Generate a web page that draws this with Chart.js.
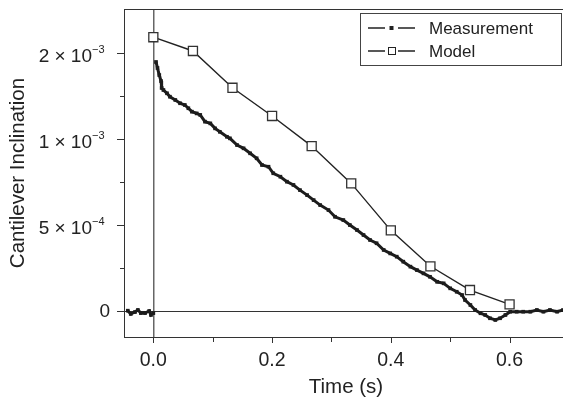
<!DOCTYPE html>
<html>
<head>
<meta charset="utf-8">
<script src="https://cdn.jsdelivr.net/npm/chart.js@4/dist/chart.umd.min.js"></script>
<style>
  body { margin: 0; background: #fff; }
  canvas { display: block; }
</style>
</head>
<body>
<canvas id="grafico" width="563" height="398"></canvas>
<script>
// values in units of 10^-3
const measTime = [-0.043, -0.038, -0.031, -0.026, -0.021, -0.014, -0.007, -0.004, 0.0,
  0.0045, 0.007, 0.010, 0.013, 0.014, 0.017, 0.023, 0.028, 0.037, 0.045,
  0.053, 0.059, 0.065, 0.073, 0.079, 0.087, 0.096, 0.104, 0.112, 0.124,
  0.129, 0.141, 0.152, 0.163, 0.174, 0.183, 0.194, 0.202, 0.214, 0.225,
  0.236, 0.247, 0.259, 0.270, 0.281, 0.295, 0.306, 0.320, 0.331, 0.343,
  0.354, 0.365, 0.376, 0.388, 0.399, 0.410, 0.421, 0.433, 0.444, 0.455,
  0.466, 0.478, 0.489, 0.500, 0.511, 0.520, 0.525, 0.534, 0.542, 0.551,
  0.559, 0.567, 0.576, 0.584, 0.593, 0.601, 0.612, 0.623, 0.635, 0.646,
  0.657, 0.668, 0.680, 0.690];
const measValue = [0.002, -0.017, -0.006, 0.006, -0.012, -0.012, 0, -0.023, -0.012,
  1.448, 1.413, 1.372, 1.337, 1.297, 1.285, 1.266, 1.246, 1.227, 1.208,
  1.198, 1.179, 1.159, 1.149, 1.140, 1.101, 1.091, 1.062, 1.042, 1.013,
  1.004, 0.965, 0.946, 0.917, 0.888, 0.849, 0.839, 0.801, 0.781, 0.752,
  0.733, 0.703, 0.674, 0.645, 0.616, 0.587, 0.548, 0.529, 0.500, 0.471,
  0.442, 0.413, 0.394, 0.355, 0.335, 0.316, 0.287, 0.258, 0.238, 0.219,
  0.199, 0.170, 0.161, 0.132, 0.112, 0.093, 0.064, 0.035, 0.006, -0.013,
  -0.023, -0.042, -0.052, -0.042, -0.023, -0.004, -0.004, -0.004, -0.004, 0.006,
  -0.004, 0.006, -0.004, 0.006];

const modelTime = [0, 0.0667, 0.1333, 0.2, 0.2667, 0.3333, 0.4, 0.4667, 0.5333, 0.6];
const modelValue = [1.592, 1.512, 1.298, 1.134, 0.959, 0.742, 0.469, 0.260, 0.122, 0.039];

const xTickValues = [0, 0.2, 0.4, 0.6];
const xTickLabels = ['0.0', '0.2', '0.4', '0.6'];
const yTickValues = [0, 0.5, 1.0, 1.5];
const yTickBase = ['0', '5 \u00d7 10', '1 \u00d7 10', '2 \u00d7 10'];
const yTickExp = ['', '\u22124', '\u22123', '\u22123'];

const seriesNames = ['Measurement', 'Model'];
const FONT = '"Liberation Sans", Arial, Helvetica, sans-serif';
const INK = '#222';

// index of the first point after the trigger jump (segment is hidden)
const saltoIndex = measTime.findIndex(t => t > 0);

function ehMaior(lista, v) {
  return lista.some(t => Math.abs(t - v) < 1e-6);
}

const moldura = {
  id: 'moldura',
  afterDraw(chart) {
    const { ctx, chartArea: a, scales: { x, y } } = chart;
    ctx.save();
    ctx.strokeStyle = '#333';
    ctx.lineWidth = 1;

    // top border
    ctx.beginPath();
    ctx.moveTo(a.left, a.top + 0.5);
    ctx.lineTo(a.right, a.top + 0.5);
    ctx.stroke();

    // ticks, major longer than minor
    y.ticks.forEach(t => {
      const py = Math.round(y.getPixelForValue(t.value)) + 0.5;
      if (py < a.top + 2) return;
      const len = ehMaior(yTickValues, t.value) ? 7 : 4;
      ctx.beginPath();
      ctx.moveTo(a.left - len, py);
      ctx.lineTo(a.left, py);
      ctx.stroke();
    });
    x.ticks.forEach(t => {
      const px = Math.round(x.getPixelForValue(t.value)) + 0.5;
      const len = ehMaior(xTickValues, t.value) ? 6 : 5;
      ctx.beginPath();
      ctx.moveTo(px, a.bottom);
      ctx.lineTo(px, a.bottom + len);
      ctx.stroke();
    });

    ctx.fillStyle = INK;
    ctx.textBaseline = 'middle';

    // y tick labels with superscript
    yTickValues.forEach((v, i) => {
      const py = y.getPixelForValue(v);
      if (!yTickExp[i]) {
        ctx.font = '19px ' + FONT;
        ctx.textAlign = 'right';
        ctx.fillText(yTickBase[i], 110, py + 1);
        return;
      }
      ctx.font = '19px ' + FONT;
      ctx.textAlign = 'right';
      ctx.fillText(yTickBase[i], 92, py + 4);
      ctx.font = '11px ' + FONT;
      ctx.textAlign = 'left';
      ctx.fillText(yTickExp[i], 92, py - 3);
    });

    // x tick labels
    ctx.font = '19.5px ' + FONT;
    ctx.textAlign = 'center';
    xTickValues.forEach((v, i) => {
      ctx.fillText(xTickLabels[i], x.getPixelForValue(v), 361);
    });

    // axis titles
    ctx.font = '20.5px ' + FONT;
    ctx.fillText('Time (s)', 346, 387);
    ctx.save();
    ctx.translate(18, (a.top + a.bottom) / 2);
    ctx.rotate(-Math.PI / 2);
    ctx.fillText('Cantilever Inclination', 0, 0);
    ctx.restore();

    // legend
    const lx = 360.5, ly = 13.5, lw = 201, lh = 52;
    ctx.fillStyle = '#fff';
    ctx.fillRect(lx, ly, lw, lh);
    ctx.strokeStyle = '#444';
    ctx.strokeRect(lx, ly, lw, lh);

    const linhas = [28, 51];
    ctx.strokeStyle = INK;
    ctx.lineWidth = 1.5;
    linhas.forEach((ry, i) => {
      ctx.beginPath();
      ctx.moveTo(368, ry); ctx.lineTo(385, ry);
      ctx.moveTo(398, ry); ctx.lineTo(415, ry);
      ctx.stroke();
      if (i === 0) {
        ctx.fillStyle = INK;
        ctx.fillRect(389.5, ry - 2, 4, 4);
      } else {
        ctx.lineWidth = 1;
        ctx.strokeRect(388.5, ry - 3.5, 7, 7);
        ctx.lineWidth = 1.5;
      }
      ctx.fillStyle = INK;
      ctx.font = '17px ' + FONT;
      ctx.textAlign = 'left';
      ctx.fillText(seriesNames[i], 429, ry + 1);
    });

    ctx.restore();
  }
};

function corZero(cor) {
  return c => (c.tick && Math.abs(c.tick.value) < 1e-9) ? cor : 'rgba(0,0,0,0)';
}

window.addEventListener('load', () => {
  const ctx = document.getElementById('grafico').getContext('2d');

  new Chart(ctx, {
    type: 'scatter',
    data: {
      datasets: [
        {
          label: seriesNames[1],
          data: modelTime.map((t, i) => ({ x: t, y: modelValue[i] })),
          showLine: true,
          borderColor: INK,
          borderWidth: 1.4,
          pointStyle: 'rect',
          pointRadius: 6.4,
          pointBackgroundColor: '#fff',
          pointBorderColor: '#333',
          pointBorderWidth: 1.3
        },
        {
          label: seriesNames[0],
          data: measTime.map((t, i) => ({ x: t, y: measValue[i] })),
          showLine: true,
          borderColor: '#1c1c1c',
          borderWidth: 3,
          pointStyle: 'rect',
          pointRadius: 2.6,
          pointBackgroundColor: '#1c1c1c',
          pointBorderWidth: 0,
          segment: {
            borderColor: c => c.p1DataIndex === saltoIndex ? 'rgba(0,0,0,0)' : undefined
          }
        }
      ]
    },
    options: {
      responsive: false,
      animation: false,
      events: [],
      layout: { autoPadding: false, padding: { top: 9, right: 0, left: 0, bottom: 0 } },
      plugins: { legend: { display: false }, tooltip: { enabled: false } },
      scales: {
        x: {
          type: 'linear',
          min: -0.0494,
          max: 0.690,
          afterFit: s => { s.height = 61; },
          ticks: { display: false, stepSize: 0.1, includeBounds: false },
          grid: { drawTicks: false, color: corZero('#666'), lineWidth: 1.5 },
          border: { display: true, color: '#333', width: 1 }
        },
        y: {
          type: 'linear',
          min: -0.151,
          max: 1.756,
          afterFit: s => { s.width = 124; },
          ticks: { display: false, stepSize: 0.25, includeBounds: false },
          grid: { drawTicks: false, color: corZero('#333'), lineWidth: 1 },
          border: { display: true, color: '#333', width: 1 }
        }
      }
    },
    plugins: [moldura]
  });
});
</script>
</body>
</html>
